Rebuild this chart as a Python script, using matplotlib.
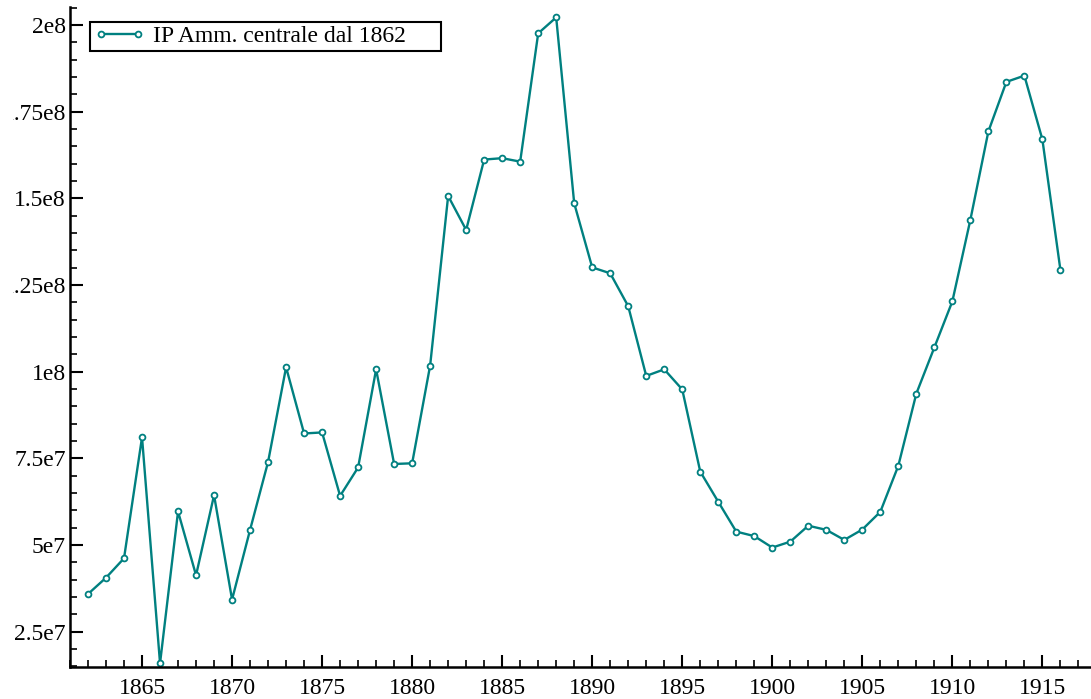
import numpy as np
import matplotlib
matplotlib.use("Agg")
import matplotlib.pyplot as plt
from matplotlib.ticker import MultipleLocator, FixedLocator, FixedFormatter
from matplotlib.transforms import Bbox, TransformedBbox, IdentityTransform

# -----------------------------
# Data
# -----------------------------
years = list(range(1862, 1917))

values_mln = [
    35.9, 40.6, 46.2, 81.1, 15.9, 59.7, 41.3, 64.4, 34.3, 54.4,
    74.0, 101.3, 82.2, 82.5, 64.2, 72.4, 100.7, 73.4, 73.6, 101.8,
    150.7, 140.9, 161.2, 161.6, 160.6, 197.6, 202.2, 148.6, 130.1, 128.4,
    118.9, 98.8, 100.7, 94.9, 71.2, 62.5, 53.9, 52.6, 49.3, 51.0,
    55.6, 54.4, 51.5, 54.5, 59.6, 72.9, 93.7, 107.0, 120.3, 143.8,
    169.3, 183.6, 185.4, 167.0, 129.4,
]

series_label = "IP Amm. centrale dal 1862"

ytick_values = [2.5e7, 5e7, 7.5e7, 1e8, 1.25e8, 1.5e8, 1.75e8, 2e8]
ytick_labels = ["2.5e7", "5e7", "7.5e7", "1e8", "1.25e8", "1.5e8", "1.75e8", "2e8"]

# -----------------------------
# Plot
# -----------------------------
plt.rcParams["font.family"] = ["Liberation Serif", "DejaVu Serif"]

teal = "#008080"

fig = plt.figure(figsize=(10.91, 6.99), dpi=100)
ax = fig.add_axes([70 / 1091, 32 / 699, 1021 / 1091, 660 / 699])

y = np.array(values_mln) * 1e6
ax.plot(years, y, color=teal, lw=1.7, marker="o", ms=4.2,
        mfc="white", mec=teal, mew=1.3, label=series_label)

ax.set_xlim(1861, 1917.7)
ax.set_ylim(14.85e6, 205.2e6)

ax.xaxis.set_major_locator(MultipleLocator(5))
ax.xaxis.set_minor_locator(MultipleLocator(1))
ax.yaxis.set_major_locator(FixedLocator(ytick_values))
ax.yaxis.set_major_formatter(FixedFormatter(ytick_labels))
ax.yaxis.set_minor_locator(MultipleLocator(5e6))

for side in ["top", "right"]:
    ax.spines[side].set_visible(False)
for side in ["left", "bottom"]:
    ax.spines[side].set_linewidth(1.8)

ax.tick_params(which="major", direction="in", length=9, width=1.5,
               labelsize=17)
ax.tick_params(axis="y", pad=3)
ax.tick_params(axis="x", pad=8)
ax.tick_params(which="minor", direction="in", length=5, width=1.2)

# the original cuts the y labels a few pixels in from the left edge
clip = TransformedBbox(Bbox([[13, 0], [1091, 699]]), IdentityTransform())
for lbl in ax.get_yticklabels():
    lbl.set_clip_box(clip)
    lbl.set_clip_on(True)

leg = ax.legend(loc="upper left",
                bbox_to_anchor=(20 / 1021, 0, 351 / 1021, 1 - 15 / 660),
                mode="expand", borderaxespad=0, fontsize=17, numpoints=2,
                handlelength=2.2, fancybox=False, framealpha=1,
                edgecolor="black", borderpad=0.15, handletextpad=0.3)
leg.get_frame().set_linewidth(1.5)

plt.savefig("out.png", dpi=100)
plt.close(fig)
